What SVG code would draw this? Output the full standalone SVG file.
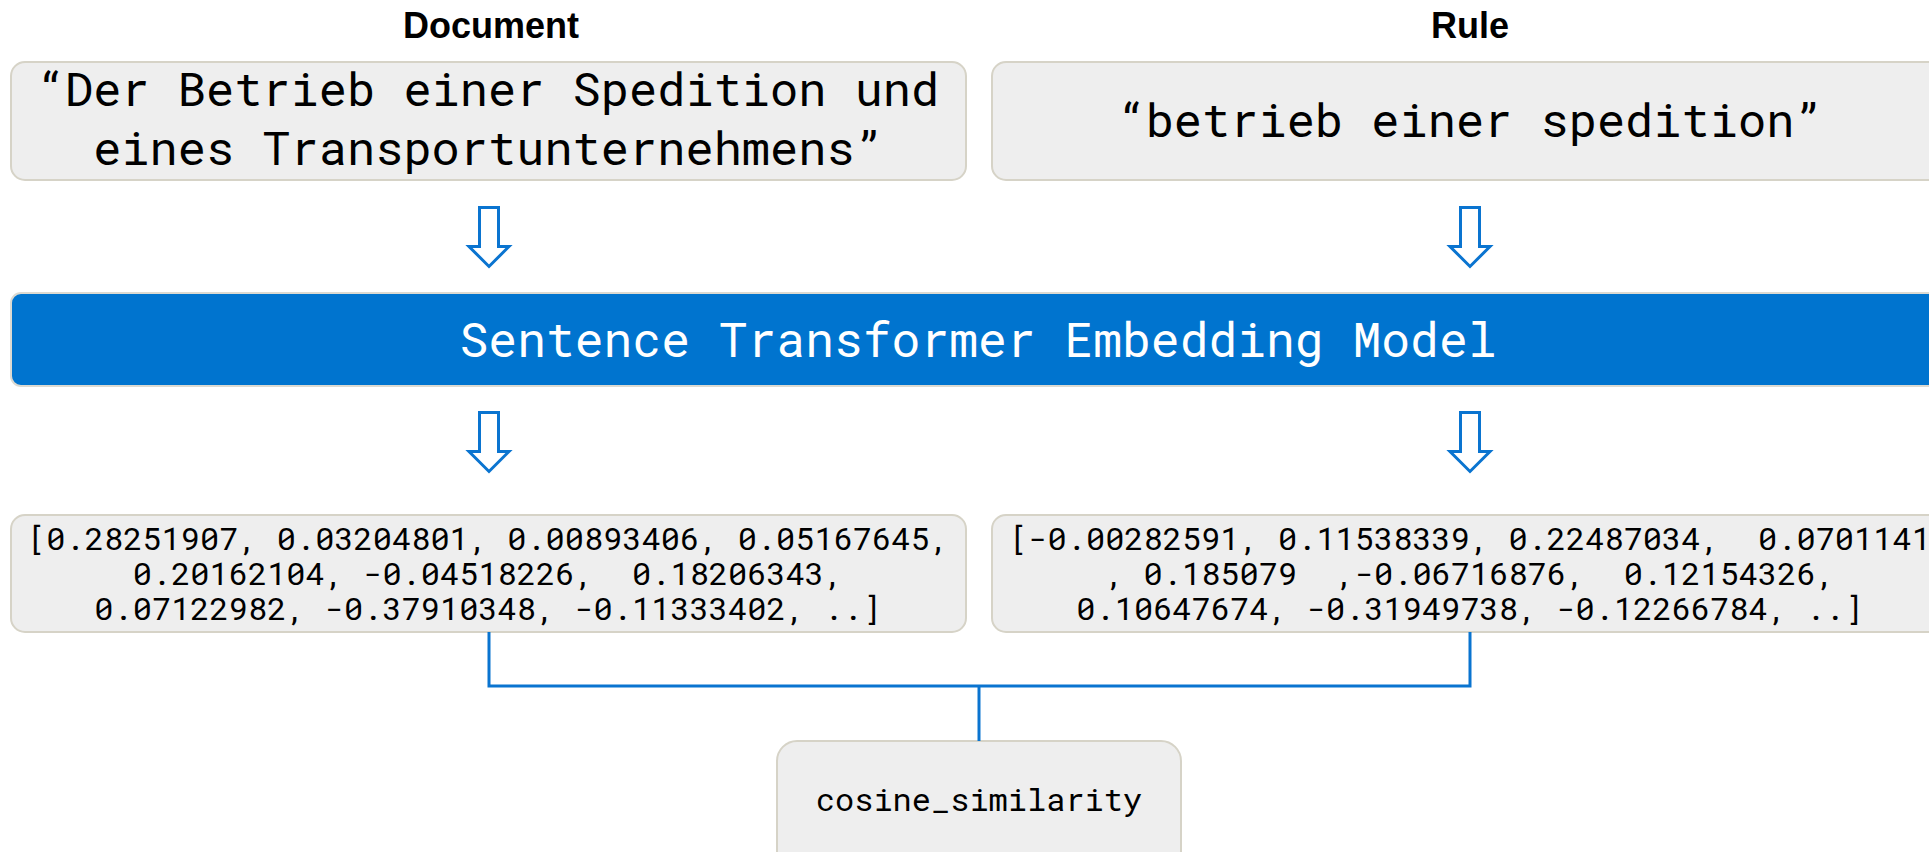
<svg xmlns="http://www.w3.org/2000/svg" width="1929" height="852" viewBox="0 0 1929 852">
<style>
.box{fill:#eeeeee;stroke:#d6d3c7;stroke-width:2}
.bar{fill:#0074cf;stroke:#dcdad2;stroke-width:2}
.mono{font-family:"Roboto Mono","DejaVu Sans Mono","Liberation Mono",monospace;fill:#000;text-anchor:middle;white-space:pre}
.big{font-size:47px}
.vec{font-size:32px}
.title{font-family:"Liberation Sans",Arial,sans-serif;font-weight:bold;font-size:36px;fill:#000;text-anchor:middle}
.arrow{fill:none;stroke:#0a74d0;stroke-width:3;stroke-linejoin:miter}
.conn{fill:none;stroke:#0a74d0;stroke-width:3}
</style>
<rect width="1929" height="852" fill="#ffffff"/>
<g id="title-document"><text class="title" x="491" y="38">Document</text></g>
<g id="title-rule"><text class="title" x="1470" y="38">Rule</text></g>
<g id="document">
<rect class="box" x="11" y="62" width="955" height="118" rx="14"/>
<text class="mono big" xml:space="preserve"><tspan x="488" y="106">“Der Betrieb einer Spedition und</tspan><tspan x="488" y="165">eines Transportunternehmens”</tspan></text>
</g>
<g id="rule">
<rect class="box" x="992" y="62" width="956" height="118" rx="14"/>
<text class="mono big" x="1470" y="137">“betrieb einer spedition”</text>
</g>
<g id="model">
<rect class="bar" x="11" y="293" width="1936" height="93" rx="10"/>
<text class="mono" x="978" y="357" style="font-size:48px;fill:#ffffff">Sentence Transformer Embedding Model</text>
</g>
<g id="doc-vector">
<rect class="box" x="11" y="515" width="955" height="117" rx="14"/>
<text class="mono vec" xml:space="preserve"><tspan x="488" y="550">[0.28251907, 0.03204801, 0.00893406, 0.05167645,</tspan><tspan x="488" y="585">0.20162104, -0.04518226,  0.18206343,</tspan><tspan x="488" y="620">0.07122982, -0.37910348, -0.11333402, ..]</tspan></text>
</g>
<g id="rule-vector">
<rect class="box" x="992" y="515" width="956" height="117" rx="14"/>
<text class="mono vec" xml:space="preserve"><tspan x="1470" y="550">[-0.00282591, 0.11538339, 0.22487034,  0.0701141</tspan><tspan x="1470" y="585">, 0.185079  ,-0.06716876,  0.12154326,</tspan><tspan x="1470" y="620">0.10647674, -0.31949738, -0.12266784, ..]</tspan></text>
</g>
<g id="cosine">
<rect class="box" x="777" y="741" width="404" height="130" rx="20"/>
<text class="mono vec" x="979" y="811">cosine_similarity</text>
</g>
<g id="connectors">
<defs>
<path id="darrow" d="M-9.5,0 H9.5 V39 H20 L0,59 L-20,39 H-9.5 Z"/>
</defs>
<use href="#darrow" class="arrow" x="489" y="207.5"/>
<use href="#darrow" class="arrow" x="1470" y="207.5"/>
<use href="#darrow" class="arrow" x="489" y="412.5"/>
<use href="#darrow" class="arrow" x="1470" y="412.5"/>
<path class="conn" d="M489,632 V686 H1470 V632"/>
<path class="conn" d="M979,686 V741"/>
</g>
</svg>
